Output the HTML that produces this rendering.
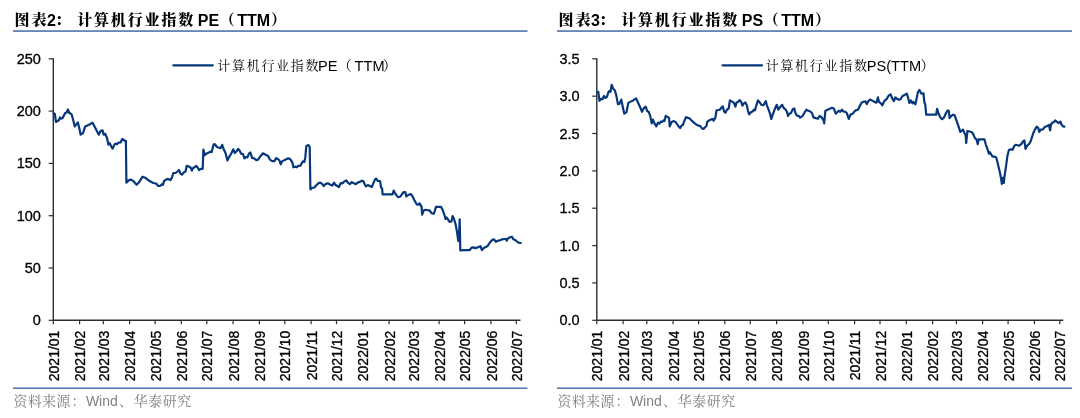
<!DOCTYPE html>
<html lang="zh"><head><meta charset="utf-8"><title>计算机行业指数 PE / PS (TTM)</title>
<style>html,body{margin:0;padding:0;background:#fff}body{width:1080px;height:418px;overflow:hidden;font-family:"Liberation Sans", "Noto Serif CJK SC", sans-serif}svg text{font-family:"Liberation Sans", "Noto Serif CJK SC", sans-serif}</style></head>
<body>
<svg width="1080" height="418" viewBox="0 0 1080 418" style="display:block">
<rect width="1080" height="418" fill="#fff"/>
<rect x="13" y="30" width="514.5" height="1" fill="#7a98c1"/>
<rect x="13" y="31" width="514.5" height="1" fill="#6587b4"/>
<rect x="13" y="387" width="514.5" height="1" fill="#9db5d2"/>
<rect x="13" y="388" width="514.5" height="1" fill="#4f78aa"/>
<path d="M53.3,58.2 V320.3 H520.5" fill="none" stroke="#2e2e2e" stroke-width="1.4"/>
<path d="M48.7,58.8 H53.3" stroke="#2e2e2e" stroke-width="1.2"/>
<text x="40.9" y="63.8" font-size="14.5" text-anchor="end" fill="#000" stroke="#000" stroke-width="0.3">250</text>
<path d="M48.7,111.1 H53.3" stroke="#2e2e2e" stroke-width="1.2"/>
<text x="40.9" y="116.1" font-size="14.5" text-anchor="end" fill="#000" stroke="#000" stroke-width="0.3">200</text>
<path d="M48.7,163.4 H53.3" stroke="#2e2e2e" stroke-width="1.2"/>
<text x="40.9" y="168.4" font-size="14.5" text-anchor="end" fill="#000" stroke="#000" stroke-width="0.3">150</text>
<path d="M48.7,215.7 H53.3" stroke="#2e2e2e" stroke-width="1.2"/>
<text x="40.9" y="220.7" font-size="14.5" text-anchor="end" fill="#000" stroke="#000" stroke-width="0.3">100</text>
<path d="M48.7,268.0 H53.3" stroke="#2e2e2e" stroke-width="1.2"/>
<text x="40.9" y="273.0" font-size="14.5" text-anchor="end" fill="#000" stroke="#000" stroke-width="0.3">50</text>
<path d="M48.7,320.3 H53.3" stroke="#2e2e2e" stroke-width="1.2"/>
<text x="40.9" y="325.3" font-size="14.5" text-anchor="end" fill="#000" stroke="#000" stroke-width="0.3">0</text>
<path d="M53.3,320.3 V324.2" stroke="#2e2e2e" stroke-width="1.2"/>
<text transform="translate(58.9,330.6) rotate(-90)" font-size="14" text-anchor="end" fill="#000" stroke="#000" stroke-width="0.3">2021/01</text>
<path d="M79.6,320.3 V324.2" stroke="#2e2e2e" stroke-width="1.2"/>
<text transform="translate(85.2,330.6) rotate(-90)" font-size="14" text-anchor="end" fill="#000" stroke="#000" stroke-width="0.3">2021/02</text>
<path d="M103.3,320.3 V324.2" stroke="#2e2e2e" stroke-width="1.2"/>
<text transform="translate(108.9,330.6) rotate(-90)" font-size="14" text-anchor="end" fill="#000" stroke="#000" stroke-width="0.3">2021/03</text>
<path d="M129.6,320.3 V324.2" stroke="#2e2e2e" stroke-width="1.2"/>
<text transform="translate(135.2,330.6) rotate(-90)" font-size="14" text-anchor="end" fill="#000" stroke="#000" stroke-width="0.3">2021/04</text>
<path d="M155.1,320.3 V324.2" stroke="#2e2e2e" stroke-width="1.2"/>
<text transform="translate(160.7,330.6) rotate(-90)" font-size="14" text-anchor="end" fill="#000" stroke="#000" stroke-width="0.3">2021/05</text>
<path d="M181.3,320.3 V324.2" stroke="#2e2e2e" stroke-width="1.2"/>
<text transform="translate(186.9,330.6) rotate(-90)" font-size="14" text-anchor="end" fill="#000" stroke="#000" stroke-width="0.3">2021/06</text>
<path d="M206.8,320.3 V324.2" stroke="#2e2e2e" stroke-width="1.2"/>
<text transform="translate(212.4,330.6) rotate(-90)" font-size="14" text-anchor="end" fill="#000" stroke="#000" stroke-width="0.3">2021/07</text>
<path d="M233.1,320.3 V324.2" stroke="#2e2e2e" stroke-width="1.2"/>
<text transform="translate(238.7,330.6) rotate(-90)" font-size="14" text-anchor="end" fill="#000" stroke="#000" stroke-width="0.3">2021/08</text>
<path d="M259.4,320.3 V324.2" stroke="#2e2e2e" stroke-width="1.2"/>
<text transform="translate(265.0,330.6) rotate(-90)" font-size="14" text-anchor="end" fill="#000" stroke="#000" stroke-width="0.3">2021/09</text>
<path d="M284.8,320.3 V324.2" stroke="#2e2e2e" stroke-width="1.2"/>
<text transform="translate(290.4,330.6) rotate(-90)" font-size="14" text-anchor="end" fill="#000" stroke="#000" stroke-width="0.3">2021/10</text>
<path d="M311.1,320.3 V324.2" stroke="#2e2e2e" stroke-width="1.2"/>
<text transform="translate(316.7,330.6) rotate(-90)" font-size="14" text-anchor="end" fill="#000" stroke="#000" stroke-width="0.3">2021/11</text>
<path d="M336.5,320.3 V324.2" stroke="#2e2e2e" stroke-width="1.2"/>
<text transform="translate(342.1,330.6) rotate(-90)" font-size="14" text-anchor="end" fill="#000" stroke="#000" stroke-width="0.3">2021/12</text>
<path d="M362.8,320.3 V324.2" stroke="#2e2e2e" stroke-width="1.2"/>
<text transform="translate(368.4,330.6) rotate(-90)" font-size="14" text-anchor="end" fill="#000" stroke="#000" stroke-width="0.3">2022/01</text>
<path d="M389.1,320.3 V324.2" stroke="#2e2e2e" stroke-width="1.2"/>
<text transform="translate(394.7,330.6) rotate(-90)" font-size="14" text-anchor="end" fill="#000" stroke="#000" stroke-width="0.3">2022/02</text>
<path d="M412.9,320.3 V324.2" stroke="#2e2e2e" stroke-width="1.2"/>
<text transform="translate(418.5,330.6) rotate(-90)" font-size="14" text-anchor="end" fill="#000" stroke="#000" stroke-width="0.3">2022/03</text>
<path d="M439.1,320.3 V324.2" stroke="#2e2e2e" stroke-width="1.2"/>
<text transform="translate(444.7,330.6) rotate(-90)" font-size="14" text-anchor="end" fill="#000" stroke="#000" stroke-width="0.3">2022/04</text>
<path d="M464.6,320.3 V324.2" stroke="#2e2e2e" stroke-width="1.2"/>
<text transform="translate(470.2,330.6) rotate(-90)" font-size="14" text-anchor="end" fill="#000" stroke="#000" stroke-width="0.3">2022/05</text>
<path d="M490.9,320.3 V324.2" stroke="#2e2e2e" stroke-width="1.2"/>
<text transform="translate(496.5,330.6) rotate(-90)" font-size="14" text-anchor="end" fill="#000" stroke="#000" stroke-width="0.3">2022/06</text>
<path d="M516.3,320.3 V324.2" stroke="#2e2e2e" stroke-width="1.2"/>
<text transform="translate(521.9,330.6) rotate(-90)" font-size="14" text-anchor="end" fill="#000" stroke="#000" stroke-width="0.3">2022/07</text>
<path d="M173.3,65.3 H212.8" stroke="#06377b" stroke-width="2.2" stroke-linecap="round"/>
<path d="M53.6,113.1 L54.8,114.0 L56.0,122.0 L57.5,120.9 L58.7,120.5 L60.0,117.5 L61.2,118.7 L62.5,118.3 L63.7,115.7 L65.2,113.1 L66.7,112.5 L67.9,109.5 L69.0,112.5 L70.4,113.5 L71.6,114.3 L72.9,119.0 L74.8,126.4 L76.7,123.9 L77.9,122.4 L79.3,128.3 L80.7,134.7 L83.0,133.2 L85.2,126.4 L87.4,125.4 L90.4,123.9 L92.6,122.7 L94.8,126.9 L97.0,131.3 L98.8,134.7 L100.4,131.3 L102.5,130.3 L103.7,134.7 L105.2,133.8 L107.0,138.0 L108.4,144.6 L109.6,143.1 L111.1,146.1 L112.6,148.6 L114.4,144.6 L115.6,143.6 L117.0,144.2 L118.5,142.7 L120.7,142.4 L122.2,138.9 L124.1,140.4 L125.9,141.1 L126.4,182.6 L128.6,180.4 L131.1,179.6 L133.3,181.1 L136.6,184.8 L139.3,181.9 L142.5,176.7 L145.2,177.7 L149.6,181.1 L153.3,183.0 L156.3,183.6 L158.2,186.0 L160.0,186.0 L162.2,184.1 L163.0,184.8 L164.0,181.1 L165.9,179.6 L168.1,178.9 L170.4,180.1 L171.9,177.7 L173.3,173.0 L175.6,173.0 L177.5,171.5 L179.0,170.0 L180.4,173.7 L181.9,174.7 L184.0,172.2 L185.5,171.5 L186.7,165.9 L188.4,166.3 L190.8,167.8 L191.9,170.7 L192.9,168.2 L194.8,167.0 L196.3,165.9 L197.8,167.8 L199.0,170.0 L200.7,168.8 L202.7,168.8 L203.4,149.6 L204.7,155.2 L206.7,153.4 L208.9,152.5 L210.7,151.5 L211.6,152.2 L213.6,144.5 L214.8,144.1 L217.0,147.0 L219.3,147.8 L220.7,148.1 L222.2,144.8 L223.7,149.3 L225.5,153.0 L227.4,160.4 L228.9,157.4 L231.1,153.7 L233.3,149.3 L234.8,153.0 L236.3,151.5 L238.2,149.0 L239.7,150.7 L241.2,153.7 L243.0,154.0 L244.4,158.4 L245.9,157.0 L247.4,157.4 L248.9,153.7 L250.4,152.5 L252.1,157.9 L254.1,158.4 L256.3,160.1 L258.1,159.6 L260.7,155.9 L263.0,153.3 L265.2,154.4 L268.1,155.9 L269.9,159.6 L272.2,161.1 L274.4,161.1 L276.2,158.1 L278.1,159.3 L279.6,160.8 L280.7,164.4 L282.1,161.4 L284.8,159.9 L287.8,158.4 L290.0,158.9 L291.5,161.1 L292.5,162.9 L293.4,167.3 L295.2,166.7 L296.7,167.3 L298.1,165.9 L300.4,165.6 L301.9,162.9 L302.9,161.4 L304.4,161.9 L305.3,157.4 L306.3,146.0 L308.5,145.1 L309.7,147.0 L310.4,189.3 L312.2,187.8 L314.4,187.5 L316.7,184.8 L318.9,182.9 L321.1,182.9 L322.6,184.5 L323.6,186.0 L325.6,184.1 L327.8,183.3 L330.0,184.5 L332.2,185.6 L334.1,182.6 L335.2,184.8 L337.4,186.0 L338.9,187.0 L340.8,183.0 L342.6,183.3 L344.1,181.6 L346.3,180.4 L347.8,182.6 L350.0,184.1 L351.8,182.1 L353.7,183.3 L355.9,184.1 L357.7,182.6 L359.6,181.9 L361.9,180.7 L363.3,181.1 L364.8,184.5 L366.0,186.3 L367.8,185.1 L371.8,187.1 L373.7,182.4 L375.2,179.1 L376.2,178.7 L377.7,180.9 L380.1,181.2 L381.1,187.6 L382.1,188.3 L382.6,194.3 L387.8,194.3 L392.5,194.3 L393.7,190.6 L394.9,192.8 L396.7,195.7 L398.4,197.2 L400.4,196.5 L401.9,194.3 L403.8,192.0 L405.3,192.0 L406.3,196.5 L408.2,195.0 L410.7,194.0 L412.2,195.7 L414.4,200.2 L416.7,204.3 L418.1,204.6 L419.6,203.4 L421.6,206.9 L422.1,214.7 L423.6,210.6 L425.6,209.8 L427.8,210.3 L429.6,210.3 L431.5,213.2 L433.7,213.8 L434.9,210.6 L435.9,206.9 L438.1,206.9 L441.1,206.9 L442.6,209.8 L444.4,214.8 L445.5,219.0 L446.7,217.5 L448.1,219.6 L449.6,221.9 L451.4,221.5 L452.6,216.0 L454.1,219.3 L455.6,224.4 L457.0,231.9 L458.2,240.7 L458.8,241.2 L459.7,219.3 L460.3,250.4 L464.4,250.1 L469.6,250.1 L471.6,247.7 L473.3,247.4 L475.1,248.1 L477.0,247.7 L479.0,246.7 L480.4,246.2 L481.9,250.1 L483.7,248.1 L485.9,247.1 L487.9,245.6 L489.6,243.0 L491.9,240.3 L493.8,239.3 L495.9,241.8 L497.8,240.7 L500.0,240.3 L502.2,239.3 L504.4,239.0 L505.9,238.8 L506.7,240.7 L508.1,238.2 L510.1,237.3 L511.9,236.7 L513.3,239.3 L515.6,240.3 L517.0,241.5 L518.5,242.7 L520.7,243.0" fill="none" stroke="#06377b" stroke-width="2.2" stroke-linejoin="round" stroke-linecap="round"/>
<rect x="557" y="30" width="515" height="1" fill="#7a98c1"/>
<rect x="557" y="31" width="515" height="1" fill="#6587b4"/>
<rect x="557" y="387" width="515" height="1" fill="#9db5d2"/>
<rect x="557" y="388" width="515" height="1" fill="#4f78aa"/>
<path d="M596.8,58.2 V320.3 H1063.3" fill="none" stroke="#2e2e2e" stroke-width="1.4"/>
<path d="M592.2,58.8 H596.8" stroke="#2e2e2e" stroke-width="1.2"/>
<text x="579.6" y="63.8" font-size="14.5" text-anchor="end" fill="#000" stroke="#000" stroke-width="0.3">3.5</text>
<path d="M592.2,96.2 H596.8" stroke="#2e2e2e" stroke-width="1.2"/>
<text x="579.6" y="101.2" font-size="14.5" text-anchor="end" fill="#000" stroke="#000" stroke-width="0.3">3.0</text>
<path d="M592.2,133.5 H596.8" stroke="#2e2e2e" stroke-width="1.2"/>
<text x="579.6" y="138.5" font-size="14.5" text-anchor="end" fill="#000" stroke="#000" stroke-width="0.3">2.5</text>
<path d="M592.2,170.9 H596.8" stroke="#2e2e2e" stroke-width="1.2"/>
<text x="579.6" y="175.9" font-size="14.5" text-anchor="end" fill="#000" stroke="#000" stroke-width="0.3">2.0</text>
<path d="M592.2,208.2 H596.8" stroke="#2e2e2e" stroke-width="1.2"/>
<text x="579.6" y="213.2" font-size="14.5" text-anchor="end" fill="#000" stroke="#000" stroke-width="0.3">1.5</text>
<path d="M592.2,245.6 H596.8" stroke="#2e2e2e" stroke-width="1.2"/>
<text x="579.6" y="250.6" font-size="14.5" text-anchor="end" fill="#000" stroke="#000" stroke-width="0.3">1.0</text>
<path d="M592.2,282.9 H596.8" stroke="#2e2e2e" stroke-width="1.2"/>
<text x="579.6" y="287.9" font-size="14.5" text-anchor="end" fill="#000" stroke="#000" stroke-width="0.3">0.5</text>
<path d="M592.2,320.3 H596.8" stroke="#2e2e2e" stroke-width="1.2"/>
<text x="579.6" y="325.3" font-size="14.5" text-anchor="end" fill="#000" stroke="#000" stroke-width="0.3">0.0</text>
<path d="M596.8,320.3 V324.2" stroke="#2e2e2e" stroke-width="1.2"/>
<text transform="translate(602.4,330.6) rotate(-90)" font-size="14" text-anchor="end" fill="#000" stroke="#000" stroke-width="0.3">2021/01</text>
<path d="M623.1,320.3 V324.2" stroke="#2e2e2e" stroke-width="1.2"/>
<text transform="translate(628.7,330.6) rotate(-90)" font-size="14" text-anchor="end" fill="#000" stroke="#000" stroke-width="0.3">2021/02</text>
<path d="M646.8,320.3 V324.2" stroke="#2e2e2e" stroke-width="1.2"/>
<text transform="translate(652.4,330.6) rotate(-90)" font-size="14" text-anchor="end" fill="#000" stroke="#000" stroke-width="0.3">2021/03</text>
<path d="M673.1,320.3 V324.2" stroke="#2e2e2e" stroke-width="1.2"/>
<text transform="translate(678.7,330.6) rotate(-90)" font-size="14" text-anchor="end" fill="#000" stroke="#000" stroke-width="0.3">2021/04</text>
<path d="M698.6,320.3 V324.2" stroke="#2e2e2e" stroke-width="1.2"/>
<text transform="translate(704.2,330.6) rotate(-90)" font-size="14" text-anchor="end" fill="#000" stroke="#000" stroke-width="0.3">2021/05</text>
<path d="M724.8,320.3 V324.2" stroke="#2e2e2e" stroke-width="1.2"/>
<text transform="translate(730.4,330.6) rotate(-90)" font-size="14" text-anchor="end" fill="#000" stroke="#000" stroke-width="0.3">2021/06</text>
<path d="M750.3,320.3 V324.2" stroke="#2e2e2e" stroke-width="1.2"/>
<text transform="translate(755.9,330.6) rotate(-90)" font-size="14" text-anchor="end" fill="#000" stroke="#000" stroke-width="0.3">2021/07</text>
<path d="M776.6,320.3 V324.2" stroke="#2e2e2e" stroke-width="1.2"/>
<text transform="translate(782.2,330.6) rotate(-90)" font-size="14" text-anchor="end" fill="#000" stroke="#000" stroke-width="0.3">2021/08</text>
<path d="M802.9,320.3 V324.2" stroke="#2e2e2e" stroke-width="1.2"/>
<text transform="translate(808.5,330.6) rotate(-90)" font-size="14" text-anchor="end" fill="#000" stroke="#000" stroke-width="0.3">2021/09</text>
<path d="M828.3,320.3 V324.2" stroke="#2e2e2e" stroke-width="1.2"/>
<text transform="translate(833.9,330.6) rotate(-90)" font-size="14" text-anchor="end" fill="#000" stroke="#000" stroke-width="0.3">2021/10</text>
<path d="M854.6,320.3 V324.2" stroke="#2e2e2e" stroke-width="1.2"/>
<text transform="translate(860.2,330.6) rotate(-90)" font-size="14" text-anchor="end" fill="#000" stroke="#000" stroke-width="0.3">2021/11</text>
<path d="M880.0,320.3 V324.2" stroke="#2e2e2e" stroke-width="1.2"/>
<text transform="translate(885.6,330.6) rotate(-90)" font-size="14" text-anchor="end" fill="#000" stroke="#000" stroke-width="0.3">2021/12</text>
<path d="M906.3,320.3 V324.2" stroke="#2e2e2e" stroke-width="1.2"/>
<text transform="translate(911.9,330.6) rotate(-90)" font-size="14" text-anchor="end" fill="#000" stroke="#000" stroke-width="0.3">2022/01</text>
<path d="M932.6,320.3 V324.2" stroke="#2e2e2e" stroke-width="1.2"/>
<text transform="translate(938.2,330.6) rotate(-90)" font-size="14" text-anchor="end" fill="#000" stroke="#000" stroke-width="0.3">2022/02</text>
<path d="M956.4,320.3 V324.2" stroke="#2e2e2e" stroke-width="1.2"/>
<text transform="translate(962.0,330.6) rotate(-90)" font-size="14" text-anchor="end" fill="#000" stroke="#000" stroke-width="0.3">2022/03</text>
<path d="M982.6,320.3 V324.2" stroke="#2e2e2e" stroke-width="1.2"/>
<text transform="translate(988.2,330.6) rotate(-90)" font-size="14" text-anchor="end" fill="#000" stroke="#000" stroke-width="0.3">2022/04</text>
<path d="M1008.1,320.3 V324.2" stroke="#2e2e2e" stroke-width="1.2"/>
<text transform="translate(1013.7,330.6) rotate(-90)" font-size="14" text-anchor="end" fill="#000" stroke="#000" stroke-width="0.3">2022/05</text>
<path d="M1034.4,320.3 V324.2" stroke="#2e2e2e" stroke-width="1.2"/>
<text transform="translate(1040.0,330.6) rotate(-90)" font-size="14" text-anchor="end" fill="#000" stroke="#000" stroke-width="0.3">2022/06</text>
<path d="M1059.8,320.3 V324.2" stroke="#2e2e2e" stroke-width="1.2"/>
<text transform="translate(1065.4,330.6) rotate(-90)" font-size="14" text-anchor="end" fill="#000" stroke="#000" stroke-width="0.3">2022/07</text>
<path d="M722.5,65.3 H762.0" stroke="#06377b" stroke-width="2.2" stroke-linecap="round"/>
<path d="M597.1,92.2 L598.3,91.9 L599.5,100.8 L601.0,98.9 L602.5,99.3 L604.0,95.9 L605.4,97.9 L606.9,97.0 L608.4,92.2 L609.4,91.0 L610.5,91.9 L611.7,84.8 L613.1,88.5 L614.9,90.4 L616.4,95.9 L617.9,104.1 L619.4,103.8 L621.3,99.6 L622.8,107.0 L624.3,113.7 L626.5,112.2 L628.3,102.9 L630.2,101.9 L633.1,100.4 L636.1,98.4 L638.3,103.3 L640.6,108.2 L642.0,111.8 L643.8,108.2 L645.7,106.7 L647.2,111.2 L648.7,111.8 L650.2,115.9 L651.7,123.3 L652.9,119.6 L654.6,123.6 L656.4,126.3 L657.9,122.6 L659.4,123.6 L660.9,121.6 L662.3,121.9 L663.5,120.4 L664.4,121.1 L665.7,115.9 L667.2,116.7 L669.1,118.1 L669.7,126.3 L671.7,122.1 L673.9,121.1 L675.7,122.1 L678.3,126.0 L680.1,128.1 L681.6,125.6 L682.8,125.1 L684.6,120.4 L686.0,117.1 L688.0,118.1 L689.4,118.1 L691.4,120.4 L693.9,122.6 L696.1,124.5 L698.3,125.6 L700.3,126.0 L702.0,128.5 L703.5,129.0 L705.3,127.0 L706.5,126.0 L707.2,121.9 L709.1,120.4 L710.9,119.6 L712.4,118.9 L713.6,120.7 L715.4,117.4 L716.6,110.3 L718.3,110.0 L719.8,109.7 L721.3,107.8 L722.8,106.3 L724.0,111.2 L725.4,112.7 L726.9,109.7 L728.7,108.5 L729.9,100.4 L731.7,101.4 L733.9,102.9 L735.4,106.7 L736.5,102.6 L738.0,101.9 L739.7,100.1 L741.2,101.9 L742.4,105.6 L743.9,103.3 L745.4,102.3 L746.9,105.6 L748.0,110.7 L749.1,114.4 L751.0,112.2 L752.8,111.2 L754.0,109.7 L755.0,110.3 L756.5,104.8 L758.0,100.4 L759.4,101.9 L761.4,104.8 L763.4,105.3 L764.6,103.3 L765.8,101.1 L766.9,105.6 L768.3,108.8 L769.8,113.0 L771.3,118.9 L772.8,114.4 L774.7,109.3 L776.8,104.8 L778.3,109.7 L780.2,107.0 L782.1,104.8 L783.6,107.8 L785.4,109.3 L786.9,111.5 L788.0,115.9 L789.5,113.7 L791.0,113.0 L792.8,109.3 L794.3,108.5 L795.4,113.0 L796.9,115.6 L798.7,115.9 L800.2,117.7 L802.4,116.2 L804.3,113.0 L806.4,109.7 L808.3,110.7 L810.3,111.5 L812.0,113.0 L813.5,117.4 L815.7,118.1 L818.0,118.6 L819.7,115.9 L821.7,117.4 L823.6,120.4 L824.2,123.3 L825.4,110.7 L827.6,109.7 L829.8,108.8 L832.0,107.8 L834.0,108.8 L835.7,113.7 L837.2,112.2 L838.7,110.7 L840.2,111.8 L842.0,109.7 L843.4,111.5 L845.4,111.8 L846.9,113.3 L848.8,118.9 L850.6,114.4 L852.8,113.7 L854.7,111.2 L856.5,110.0 L858.0,109.7 L859.7,106.3 L861.7,102.6 L863.1,101.9 L865.4,101.4 L866.9,104.1 L868.3,101.1 L870.1,99.6 L872.0,100.4 L874.3,101.9 L876.5,102.6 L878.0,97.4 L879.0,101.9 L880.9,103.3 L882.4,105.3 L883.9,101.9 L885.0,100.4 L886.8,98.9 L888.7,95.5 L890.6,94.4 L892.1,98.1 L893.9,101.1 L895.4,97.4 L897.1,98.9 L899.1,99.6 L900.6,99.3 L902.0,96.7 L903.5,95.5 L905.4,94.4 L906.9,93.7 L908.4,98.9 L909.4,102.9 L910.9,100.4 L912.4,103.3 L913.4,101.9 L915.4,104.4 L916.4,99.6 L917.9,92.2 L919.4,90.0 L920.9,93.0 L922.0,93.7 L923.5,93.4 L924.3,101.9 L925.3,104.8 L926.2,114.7 L930.9,114.7 L936.1,114.7 L937.1,108.8 L938.6,113.7 L940.1,117.1 L942.0,119.2 L943.5,118.1 L944.6,116.2 L946.0,113.0 L947.5,110.7 L948.7,110.7 L949.6,118.1 L951.4,115.9 L953.1,114.7 L954.6,115.2 L956.7,121.1 L958.5,126.3 L960.3,131.9 L961.8,130.7 L963.0,129.6 L964.4,133.0 L965.6,135.2 L966.2,142.9 L967.4,131.0 L969.6,131.5 L971.9,132.2 L973.3,134.4 L974.8,137.9 L976.6,139.6 L977.8,144.1 L978.7,139.3 L981.5,139.3 L984.4,139.3 L985.9,144.8 L987.4,148.8 L988.9,153.7 L989.9,152.2 L991.1,154.4 L992.6,156.7 L994.8,156.7 L996.3,157.7 L997.8,163.3 L997.8,163.7 L999.8,171.9 L1001.2,179.3 L1001.8,183.8 L1002.7,177.8 L1003.8,183.0 L1004.5,176.4 L1006.0,166.7 L1007.4,155.9 L1008.9,150.0 L1010.7,149.3 L1012.6,149.7 L1014.1,146.3 L1015.6,144.8 L1017.8,145.3 L1019.3,145.6 L1021.5,143.8 L1023.0,141.4 L1024.4,140.4 L1025.5,148.8 L1027.0,145.9 L1029.3,143.8 L1030.4,141.9 L1031.9,137.4 L1033.3,133.0 L1035.3,129.0 L1036.7,126.6 L1038.2,127.8 L1039.3,131.9 L1040.7,129.6 L1043.0,129.3 L1044.7,127.0 L1046.7,126.3 L1048.9,124.8 L1050.1,130.4 L1051.1,124.1 L1052.6,122.6 L1054.1,121.9 L1055.1,120.4 L1057.0,121.9 L1058.5,123.0 L1060.4,121.6 L1061.5,124.5 L1063.0,126.3 L1064.4,126.6" fill="none" stroke="#06377b" stroke-width="2.2" stroke-linejoin="round" stroke-linecap="round"/>
<text x="14.6" y="25.2" font-size="15" font-weight="900" letter-spacing="2.00" fill="#000">图表</text>
<text x="47.0" y="25.8" font-size="16" font-weight="bold" fill="#000">2</text>
<text x="55.0" y="25.2" font-size="15" font-weight="900" fill="#000">：</text>
<text x="77.2" y="25.2" font-size="15" font-weight="900" letter-spacing="1.83" fill="#000">计算机行业指数</text>
<text x="197.8" y="25.8" font-size="16" font-weight="bold" fill="#000">PE</text>
<text x="219.8" y="25.2" font-size="15" font-weight="900" fill="#000">（</text>
<text x="237.2" y="25.8" font-size="16" font-weight="bold" fill="#000">TTM</text>
<text x="271.0" y="25.2" font-size="15" font-weight="900" fill="#000">）</text>
<text x="13.6" y="405.6" font-size="14" letter-spacing="0.23" fill="#808080">资料来源</text>
<text x="71.4" y="405.6" font-size="14" fill="#808080">：</text>
<text x="85.9" y="405.6" font-size="14" fill="#808080">Wind</text>
<text x="118.9" y="405.6" font-size="14" fill="#808080">、</text>
<text x="133.7" y="405.6" font-size="14" letter-spacing="0.53" fill="#808080">华泰研究</text>
<text x="217.2" y="69.9" font-size="13" letter-spacing="1.73" fill="#000">计算机行业指数</text>
<text x="318.0" y="70.9" font-size="14.6" fill="#000">PE</text>
<text x="337.8" y="70.4" font-size="14" fill="#000">（</text>
<text x="354.6" y="70.9" font-size="14.6" fill="#000">TTM</text>
<text x="382.8" y="70.4" font-size="14" fill="#000">）</text>
<text x="558.6" y="25.2" font-size="15" font-weight="900" letter-spacing="2.00" fill="#000">图表</text>
<text x="591.0" y="25.8" font-size="16" font-weight="bold" fill="#000">3</text>
<text x="599.0" y="25.2" font-size="15" font-weight="900" fill="#000">：</text>
<text x="621.2" y="25.2" font-size="15" font-weight="900" letter-spacing="1.83" fill="#000">计算机行业指数</text>
<text x="741.8" y="25.8" font-size="16" font-weight="bold" fill="#000">PS</text>
<text x="763.8" y="25.2" font-size="15" font-weight="900" fill="#000">（</text>
<text x="781.2" y="25.8" font-size="16" font-weight="bold" fill="#000">TTM</text>
<text x="815.0" y="25.2" font-size="15" font-weight="900" fill="#000">）</text>
<text x="557.6" y="405.6" font-size="14" letter-spacing="0.23" fill="#808080">资料来源</text>
<text x="615.4" y="405.6" font-size="14" fill="#808080">：</text>
<text x="629.9" y="405.6" font-size="14" fill="#808080">Wind</text>
<text x="662.9" y="405.6" font-size="14" fill="#808080">、</text>
<text x="677.7" y="405.6" font-size="14" letter-spacing="0.53" fill="#808080">华泰研究</text>
<text x="765.7" y="69.9" font-size="13" letter-spacing="1.70" fill="#000">计算机行业指数</text>
<text x="866.8" y="70.9" font-size="14.6" fill="#000">PS(TTM</text>
<text x="920.5" y="70.4" font-size="14" fill="#000">）</text>
</svg>
</body></html>
